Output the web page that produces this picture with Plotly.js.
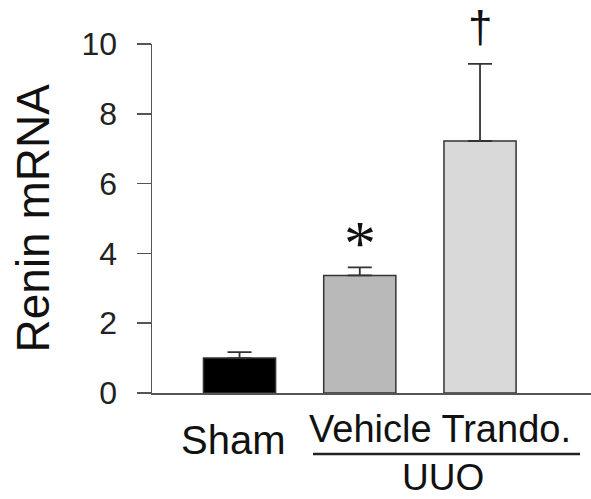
<!DOCTYPE html>
<html>
<head>
<meta charset="utf-8">
<script src="https://cdn.plot.ly/plotly-3.0.1.min.js"></script>
<style>html,body{margin:0;padding:0;background:#fff;}#chart{width:591px;height:499px;}</style>
</head>
<body>
<div id="chart"></div>
<script>
// ---- data ----
var categories = ['Sham', 'Vehicle', 'Trando.'];
var renin = [1.0, 3.37, 7.22];
var reninErr = [0.17, 0.23, 2.21];
var marks = ['', '*', '\u2020'];
var groupLabel = 'UUO';
var yTicks = [0, 2, 4, 6, 8, 10];
var yTitle = 'Renin mRNA';

// ---- layout constants ----
var W = 591, H = 499, ML = 152, MR = 0, MT = 44, MB = 106;
var PW = W - ML - MR, PH = H - MT - MB;
function px2x(px) { return (px - ML) / PW; }
function px2y(py) { return (H - MB - py) / PH; }

var fills = ['#000000', '#b9b9b9', '#d9d9d9'];
var zeros = renin.map(function () { return 0; });

var trace = {
  type: 'bar',
  x: categories,
  y: renin,
  width: 0.6,
  marker: { color: fills, line: { color: '#333333', width: 1.5 } },
  error_y: {
    type: 'data', symmetric: false, array: reninErr, arrayminus: zeros,
    color: '#333333', thickness: 1.8, width: 12
  },
  hoverinfo: 'none'
};

var font = 'Liberation Sans, Arial, sans-serif';
var annotations = [];

// significance marks
var markFonts = [null, { family: 'Liberation Serif, serif', size: 64, color: '#111' },
                 { family: font, size: 44, color: '#111' }];
var markShift = [0, 24, 37];
marks.forEach(function (m, i) {
  if (!m) return;
  annotations.push({
    x: categories[i], y: renin[i] + reninErr[i], xref: 'x', yref: 'y',
    text: m, showarrow: false, xanchor: 'center', yanchor: 'middle',
    yshift: markShift[i], font: markFonts[i]
  });
});

// category labels
annotations.push({
  x: px2x(233.5), y: px2y(440), xref: 'paper', yref: 'paper',
  text: categories[0], showarrow: false, xanchor: 'center', yanchor: 'middle',
  font: { family: font, size: 40, color: '#111' }
});
annotations.push({
  x: px2x(440), y: px2y(429), xref: 'paper', yref: 'paper',
  text: categories.slice(1).join(' '), showarrow: false, xanchor: 'center', yanchor: 'middle',
  font: { family: font, size: 38, color: '#111' }
});
annotations.push({
  x: px2x(443), y: px2y(477.5), xref: 'paper', yref: 'paper',
  text: groupLabel, showarrow: false, xanchor: 'center', yanchor: 'middle',
  font: { family: font, size: 37, color: '#111' }
});
// y title
annotations.push({
  x: px2x(32), y: px2y(218.5), xref: 'paper', yref: 'paper',
  text: yTitle, showarrow: false, textangle: -90, xanchor: 'center', yanchor: 'middle',
  font: { family: font, size: 46, color: '#111' }
});

var layout = {
  width: W, height: H,
  margin: { l: ML, r: MR, t: MT, b: MB, pad: 0 },
  paper_bgcolor: '#ffffff', plot_bgcolor: '#ffffff',
  showlegend: false,
  bargap: 0.4,
  xaxis: {
    type: 'category', range: [-0.728, 2.923], showticklabels: false, ticks: '',
    showline: true, linecolor: '#555555', linewidth: 1.5, showgrid: false, zeroline: false,
    fixedrange: true
  },
  yaxis: {
    range: [0, 10], tickvals: yTicks, ticktext: yTicks.map(String),
    ticks: 'outside', ticklen: 14, tickwidth: 1.5, tickcolor: '#555555',
    showline: true, linecolor: '#555555', linewidth: 1.5,
    showgrid: false, zeroline: false, ticklabelstandoff: 13,
    tickfont: { family: font, size: 32, color: '#222' }, fixedrange: true
  },
  shapes: [{
    type: 'line', xref: 'paper', yref: 'paper',
    x0: px2x(313), x1: px2x(580), y0: px2y(454), y1: px2y(454),
    line: { color: '#222222', width: 2.5 }
  }],
  annotations: annotations
};

Plotly.newPlot('chart', [trace], layout, { staticPlot: true, displayModeBar: false });
</script>
</body>
</html>
